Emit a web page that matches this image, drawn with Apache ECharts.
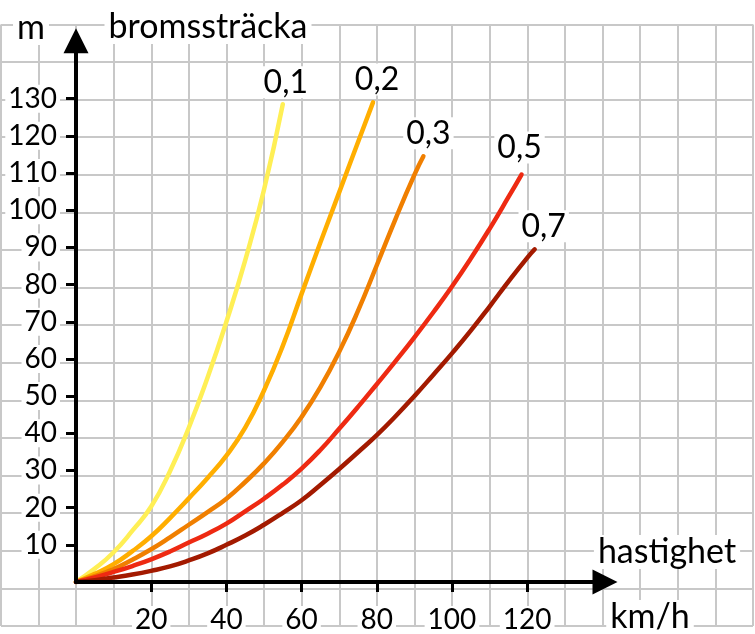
<!DOCTYPE html>
<html>
<head>
<meta charset="utf-8">
<script src="https://cdn.jsdelivr.net/npm/echarts@6/dist/echarts.min.js"></script>
<style>
html,body{margin:0;padding:0;background:#fff;}
#chart{width:755px;height:634px;}
</style>
</head>
<body>
<div id="chart"></div>
<script>
// ---- data ----
const speedTicks = [20, 40, 60, 80, 100, 120];           // km/h
const distTicks = [10, 20, 30, 40, 50, 60, 70, 80, 90, 100, 110, 120, 130]; // m
const curveNames = ['0,1', '0,2', '0,3', '0,5', '0,7'];
// [speed km/h, braking distance m]
const mu01 = [[0,0],[5,3.6],[10,8],[15,13.8],[20,20.3],[25,29.8],[30,41.5],[35,55],[40,70],[45,86.5],[50,105.5],[55,128.5]];
const mu02 = [[0,0],[5,2.2],[10,4.8],[15,8.3],[20,12.3],[25,17.2],[30,22.5],[35,28],[40,34],[45,41.5],[50,51.5],[55,63.5],[60,77.5],[65,91.3],[70,104.8],[75,118.3],[79,129]];
const mu03 = [[0,0],[5,1.6],[10,3.5],[15,6],[20,8.8],[25,12],[30,15.4],[35,18.8],[40,22.4],[45,26.9],[50,31.9],[55,37.7],[60,44.4],[65,52.4],[70,61.9],[75,72.9],[80,85.2],[85,97.7],[90,109.5],[92.4,114.5]];
const mu05 = [[0,0],[5,1.2],[10,2.7],[15,4.3],[20,6.1],[25,8.2],[30,10.6],[35,13],[40,15.7],[45,19],[50,22.4],[55,26.2],[60,30.5],[65,35.5],[70,41.2],[75,47.1],[80,53.2],[85,59.4],[90,65.8],[95,72.5],[100,79.5],[105,87],[110,95],[115,103.5],[118.5,109.6]];
const mu07 = [[0,0],[5,0.5],[10,1.2],[15,2],[20,3],[25,4.2],[30,5.8],[35,7.7],[40,10],[45,12.5],[50,15.4],[55,18.6],[60,22],[65,26.1],[70,30.4],[75,34.9],[80,39.5],[85,44.6],[90,50],[95,55.7],[100,61.5],[105,67.6],[110,74.1],[115,80.8],[120,87.2],[122,89.5]];

const curves = [mu01, mu02, mu03, mu05, mu07];
const colors = ['#FFEF55', '#FFAE00', '#F07F00', '#EE2A12', '#A31A00'];
const labelOffsets = [[3,-22],[4,-23],[5,-23],[-2,-27],[9,-23]];

const FONT = 'Lato';
const chart = echarts.init(document.getElementById('chart'), null, {renderer: 'canvas'});

const series = curves.map((d, i) => ({
  type: 'line',
  name: curveNames[i],
  xAxisIndex: 1,
  yAxisIndex: 1,
  data: d,
  smooth: 0.5,
  showSymbol: false,
  symbol: 'none',
  z: 2,
  lineStyle: {color: colors[i], width: 4.5, cap: 'round'},
  itemStyle: {color: colors[i]},
  endLabel: {
    show: true,
    position: 'right',
    distance: 0,
    align: 'center',
    verticalAlign: 'middle',
    offset: labelOffsets[i],
    formatter: '{a}',
    color: '#000',
    fontFamily: FONT,
    fontSize: 32,
    backgroundColor: '#fff',
    padding: [0, 3, 0, 3]
  }
}));

const option = {
  animation: false,
  backgroundColor: '#fff',
  grid: [
    {left: 1, top: 24.4, width: 752, height: 601.6, show: false},
    {left: 76, top: 40.7, width: 529, height: 547.3, show: false}
  ],
  xAxis: [
    {
      gridIndex: 0, type: 'value', min: -20, max: 180, interval: 10,
      axisLine: {show: false}, axisTick: {show: false}, axisLabel: {show: false},
      splitLine: {show: true, lineStyle: {color: '#c8c8c8', width: 2}}
    },
    {
      gridIndex: 1, type: 'value', min: 0, max: 140.7, z: 3,
      axisLine: {show: true, onZero: false, symbol: ['none', 'triangle'], symbolSize: [25, 25],
                 lineStyle: {color: '#000', width: 4}},
      axisTick: {show: true, customValues: speedTicks, length: 10, lineStyle: {color: '#000', width: 3}},
      axisLabel: {show: true, customValues: speedTicks, margin: 24, color: '#000', fontFamily: FONT,
                  fontSize: 28, backgroundColor: '#fff', padding: [0, 3, 0, 3]},
      splitLine: {show: false}
    }
  ],
  yAxis: [
    {
      gridIndex: 0, type: 'value', min: -10, max: 150, interval: 10,
      axisLine: {show: false}, axisTick: {show: false}, axisLabel: {show: false},
      splitLine: {show: true, lineStyle: {color: '#c8c8c8', width: 2}}
    },
    {
      gridIndex: 1, type: 'value', min: 0, max: 145.6, z: 3,
      axisLine: {show: true, onZero: false, symbol: ['none', 'triangle'], symbolSize: [25, 25],
                 lineStyle: {color: '#000', width: 4}},
      axisTick: {show: true, customValues: distTicks, length: 10, lineStyle: {color: '#000', width: 3}},
      axisLabel: {show: true, customValues: distTicks, margin: 16, color: '#000', fontFamily: FONT,
                  fontSize: 28, backgroundColor: '#fff', padding: [0, 3, 0, 3]},
      splitLine: {show: false}
    }
  ],
  graphic: [
    {type: 'text', x: 31, y: 28, z: 10,
     style: {text: 'm', align: 'center', verticalAlign: 'middle', fill: '#000',
             font: '34px ' + FONT, backgroundColor: '#fff', padding: [0, 4]}},
    {type: 'text', x: 208, y: 27, z: 10,
     style: {text: 'bromssträcka', align: 'center', verticalAlign: 'middle', fill: '#000',
             font: '34px ' + FONT, backgroundColor: '#fff', padding: [0, 4]}},
    {type: 'text', x: 667, y: 552, z: 10,
     style: {text: 'hastighet', align: 'center', verticalAlign: 'middle', fill: '#000',
             font: '34px ' + FONT, backgroundColor: '#fff', padding: [0, 4]}},
    {type: 'text', x: 650, y: 617, z: 10,
     style: {text: 'km/h', align: 'center', verticalAlign: 'middle', fill: '#000',
             font: '34px ' + FONT, backgroundColor: '#fff', padding: [0, 4]}}
  ],
  series: series
};
chart.setOption(option);
</script>
</body>
</html>
